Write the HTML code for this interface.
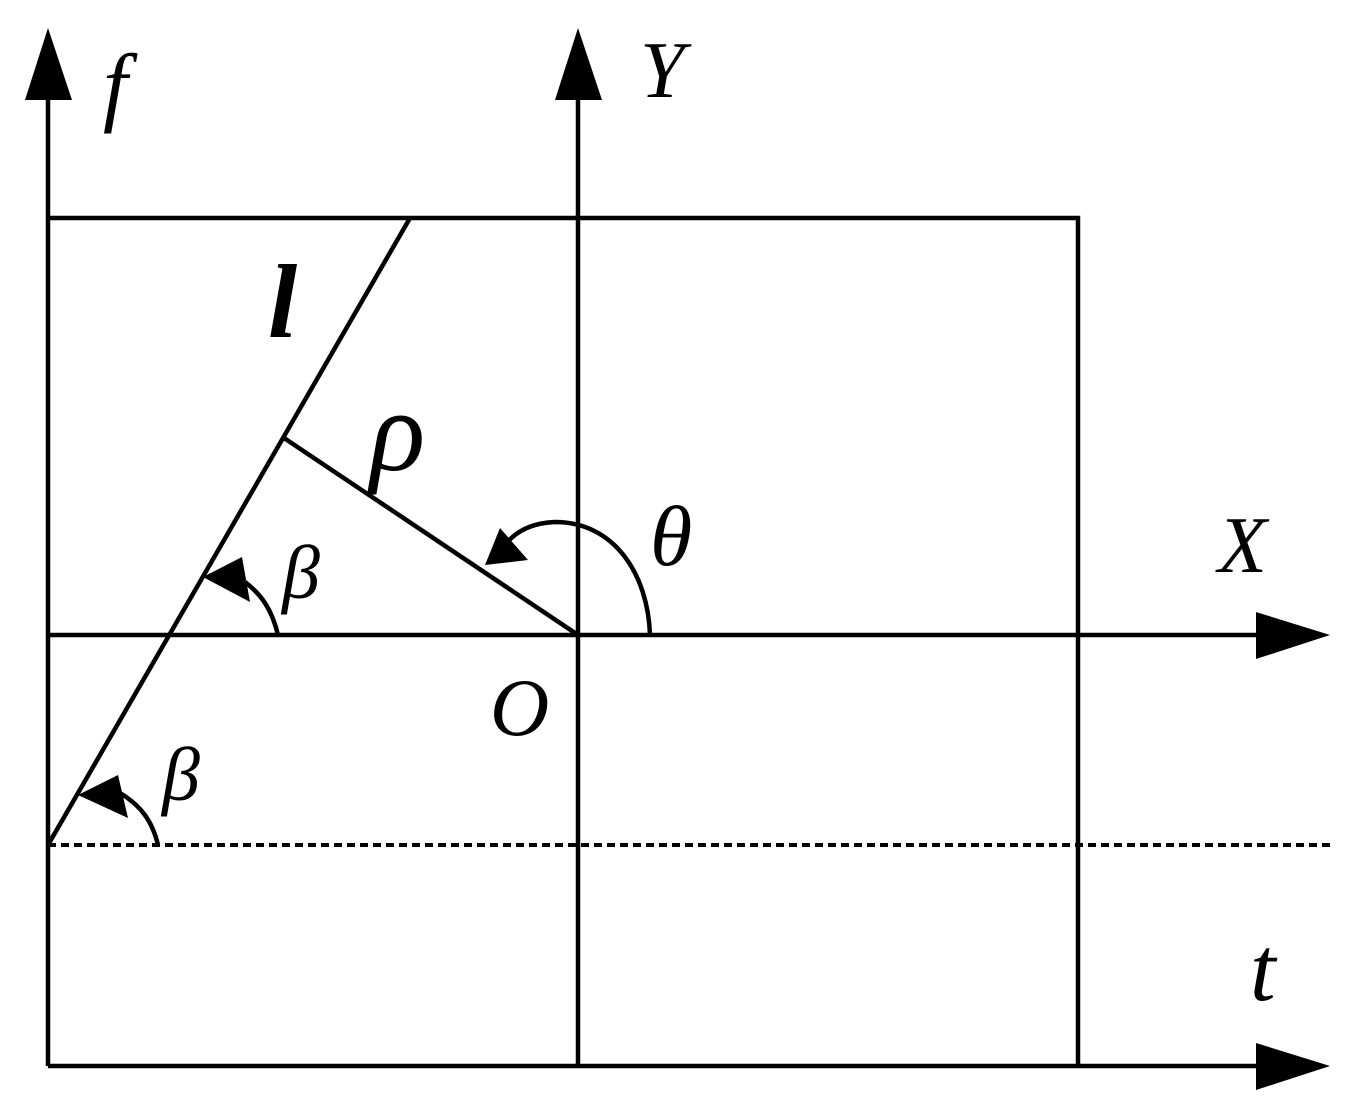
<!DOCTYPE html>
<html><head><style>html,body{margin:0;padding:0;background:#fff;}svg{display:block}</style></head>
<body>
<svg width="1365" height="1113" viewBox="0 0 1365 1113" xmlns="http://www.w3.org/2000/svg">
<g stroke="#000" stroke-width="4.5" fill="none">
<line x1="48" y1="1066" x2="48" y2="90"/>
<line x1="578" y1="1066" x2="578" y2="90"/>
<polyline points="48,218 1078,218 1078,1066"/>
<line x1="48" y1="635" x2="1270" y2="635"/>
<line x1="48" y1="1066" x2="1270" y2="1066"/>
<line x1="48" y1="845" x2="1335" y2="845" stroke-width="4" stroke-dasharray="8,5"/>
<line x1="410" y1="218" x2="48" y2="845"/>
<line x1="578" y1="635" x2="284" y2="438"/>
<path d="M650,635 C648,575 615,522 555,522 C530,523 515,532 505,545"/>
<path d="M278,635 C272,610 262,595 245,582"/>
<path d="M158,845 C152,820 140,805 120,793"/>
</g>
<g fill="#000">
<polygon points="48,28 25,100 72,100"/>
<polygon points="578,28 555,100 602,100"/>
<polygon points="1330,635 1256,612 1256,659"/>
<polygon points="1330,1066 1256,1043 1256,1090"/>
<polygon points="485,565 500,528 528,560"/>
<polygon points="203,577 242,557 250,602"/>
<polygon points="78,795 118,775 128,818"/>
</g>
<g font-family="Liberation Serif, serif" font-style="italic" fill="#000">
<text x="103" y="115" font-size="88">f</text>
<text x="640" y="97" font-size="80">Y</text>
<text x="268" y="337" font-size="105" font-weight="bold">l</text>
<text x="370" y="470" font-size="115">ρ</text>
<text x="650" y="565" font-size="86">θ</text>
<text x="1218" y="572" font-size="80">X</text>
<text x="282" y="598" font-size="76">β</text>
<text x="162" y="800" font-size="76">β</text>
<text x="490" y="735" font-size="82">O</text>
<text x="1250" y="1000" font-size="92">t</text>
</g>
</svg>
</body></html>
